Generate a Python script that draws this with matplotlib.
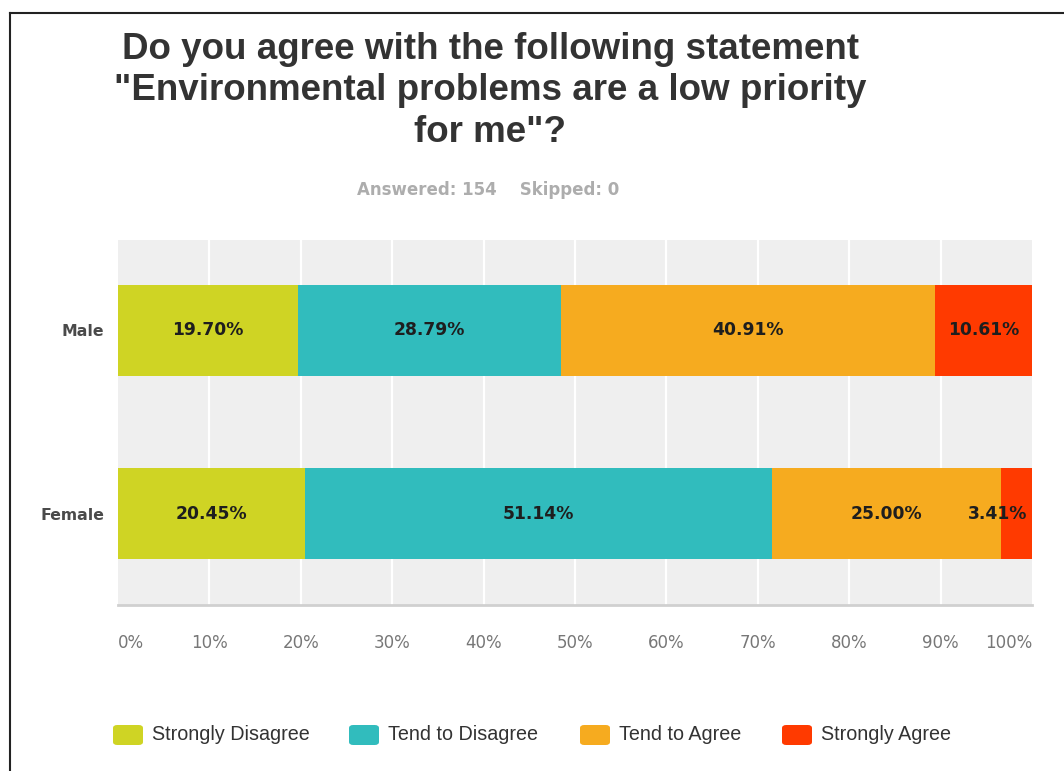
import matplotlib
matplotlib.use("Agg")
import matplotlib.pyplot as plt
from matplotlib.patches import FancyBboxPatch
from matplotlib.lines import Line2D
import numpy as np

# ---------------- Data -----------------
groups = ["Male", "Female"]
answers = ["Strongly Disagree", "Tend to Disagree", "Tend to Agree", "Strongly Agree"]
male = [19.70, 28.79, 40.91, 10.61]
female = [20.45, 51.14, 25.00, 3.41]
colors = ["#cfd424", "#31bcbd", "#f6ab1f", "#ff3a00"]
ticks = [0, 10, 20, 30, 40, 50, 60, 70, 80, 90, 100]

title = 'Do you agree with the following statement\n"Environmental problems are a low priority\nfor me"?'
subtitle = "Answered: 154    Skipped: 0"

plt.rcParams["font.family"] = ["DejaVu Sans"]
ARIAL = ["Liberation Sans", "DejaVu Sans"]

W, H = 1064, 771
fig = plt.figure(figsize=(W / 100, H / 100), dpi=100)
fig.patch.set_facecolor("white")

def fx(px):
    return px / W

def fy(py):
    return 1 - py / H

# frame around the card (top and left edges)
fig.add_artist(Line2D([fx(10), 1], [fy(13), fy(13)], color="#222222", lw=1.5))
fig.add_artist(Line2D([fx(10), fx(10)], [fy(13), 0], color="#222222", lw=1.5))

# ---------------- Plot area -----------------
ax = fig.add_axes([fx(118), fy(605), fx(1032) - fx(118), (605 - 240) / H])
ax.set_facecolor("#efefef")
ax.set_xlim(0, 100)
ax.set_ylim(1.495, -0.49)

for t in ticks[1:-1]:
    ax.axvline(t, color="white", lw=1.6, zorder=1)

data = np.array([male, female])
y = np.arange(len(groups))
left = np.zeros(len(groups))
for j, name in enumerate(answers):
    vals = data[:, j]
    ax.barh(y, vals, left=left, height=0.495, color=colors[j], zorder=2, label=name)
    for i in range(len(groups)):
        v = vals[i]
        txt = f"{v:.2f}%"
        if v < 6:
            # too narrow: keep the label inside the plot's right edge
            ax.text(99.5, y[i], txt, ha="right", va="center", fontsize=12.3,
                    fontweight="bold", color="#1e1e1e", zorder=3)
        else:
            ax.text(left[i] + v / 2, y[i], txt, ha="center", va="center",
                    fontsize=12.3, fontweight="bold", color="#1e1e1e", zorder=3)
    left += vals

for s in ["top", "right", "left"]:
    ax.spines[s].set_visible(False)
ax.spines["bottom"].set_color("#d0d0d0")
ax.spines["bottom"].set_linewidth(2)

ax.set_yticks(y)
ax.set_yticklabels(groups, fontsize=11.3, fontweight="bold", color="#4a4a4a")
ax.tick_params(axis="y", length=0, pad=10)

ax.set_xticks(ticks)
ax.set_xticklabels([f"{t}%" for t in ticks], fontsize=12, color="#777777")
ax.tick_params(axis="x", length=0, pad=21)
xl = ax.get_xticklabels()
xl[0].set_ha("left")
xl[-1].set_ha("right")

# ---------------- Titles -----------------
fig.text(fx(490), fy(91), title, ha="center", va="center", fontsize=26.5,
         fontweight="bold", color="#333333", linespacing=1.24, family=ARIAL)
fig.text(fx(488), fy(190), subtitle, ha="center", va="center", fontsize=12,
         fontweight="bold", color="#adadad")

# ---------------- Legend -----------------
leg_x = [113, 349, 580, 782]
for j, name in enumerate(answers):
    box = FancyBboxPatch((fx(leg_x[j]), fy(745)), fx(30), 20 / H,
                         boxstyle="round,pad=0,rounding_size=0.004",
                         transform=fig.transFigure, facecolor=colors[j],
                         edgecolor="none")
    fig.add_artist(box)
    fig.text(fx(leg_x[j] + 39), fy(735), name, ha="left", va="center",
             fontsize=14.2, color="#333333", family=ARIAL)

fig.savefig("out.png", dpi=100, facecolor="white")
